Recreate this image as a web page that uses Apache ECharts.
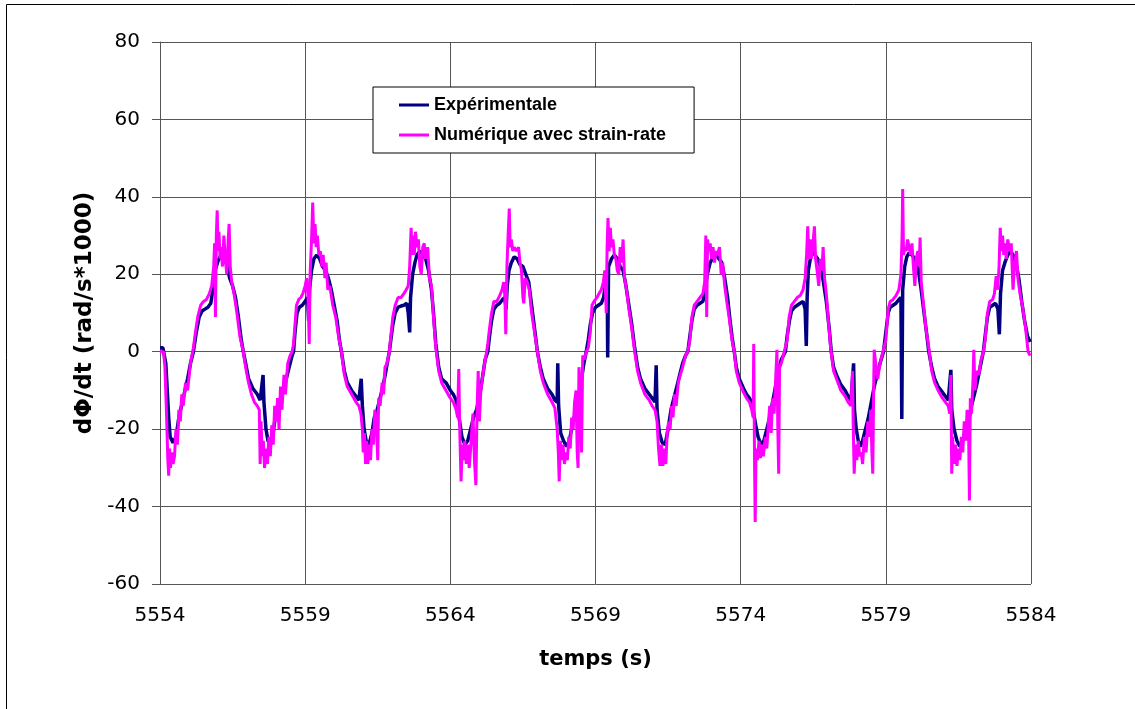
<!DOCTYPE html>
<html>
<head>
<meta charset="utf-8">
<title>dPhi/dt</title>
<script src="https://cdn.jsdelivr.net/npm/echarts@6/dist/echarts.min.js"></script>
<style>
  html, body { margin: 0; padding: 0; background: #fff; }
  #chart { width: 1135px; height: 709px; }
</style>
</head>
<body>
<div id="chart"></div>
<script>
// legend names
const seriesNames = ["Expérimentale", "Numérique avec strain-rate"]

// axis ranges
const timeRange = [5554, 5584, 5]
const rateRange = [-60, 80, 20]

// experimental signal [temps, dPhi/dt]
const experimental = [
  [5554,1],[5554.1,1],[5554.15,1],[5554.2,-3],[5554.25,-10],[5554.3,-17],[5554.35,-22],[5554.45,-23.5],[5554.55,-22],[5554.65,-17],[5554.8,-12],[5554.95,-7],[5555.05,-3],
  [5555.15,0],[5555.25,5],[5555.35,9],[5555.45,10.5],[5555.55,11],[5555.65,11.5],[5555.75,12.5],[5555.82,16],[5555.9,21],[5556.0,23.5],[5556.1,25],[5556.2,24],[5556.3,22.5],[5556.4,19],[5556.5,17],[5556.6,14],[5556.7,9],[5556.8,3],[5556.87,0],
  [5556.95,-3],[5557.05,-7],[5557.2,-9.5],[5557.35,-11],[5557.45,-12.5],[5557.5,-13],[5557.55,-6],[5557.58,-13],[5557.65,-20],[5557.72,-23],[5557.8,-24],[5557.88,-22],[5557.95,-18],[5558.05,-15],[5558.15,-13],[5558.25,-10],[5558.35,-7],[5558.45,-4],[5558.55,-1],
  [5558.6,0],[5558.65,5],[5558.72,10],[5558.8,11.5],[5558.9,12],[5559.0,13],[5559.08,14],[5559.12,8],[5559.15,16],[5559.22,21],[5559.3,24],[5559.4,25],[5559.5,24],[5559.6,22],[5559.7,21],[5559.8,19],[5559.9,16],[5560.0,12],[5560.1,8],[5560.18,3],[5560.25,0],
  [5560.35,-5],[5560.45,-8],[5560.6,-10],[5560.75,-11.5],[5560.85,-12.5],[5560.9,-13],[5560.93,-7],[5560.97,-14],[5561.03,-20],[5561.1,-23],[5561.2,-24],[5561.3,-21],[5561.38,-17],[5561.48,-15],[5561.58,-12],[5561.68,-9],[5561.78,-5],[5561.85,-2],
  [5561.9,0],[5561.95,3],[5562.02,7],[5562.1,10],[5562.2,11.5],[5562.3,11.8],[5562.4,12],[5562.5,12.5],[5562.55,10],[5562.6,5],[5562.63,14],[5562.7,20],[5562.78,23],[5562.85,25],[5562.95,26],[5563.05,25],[5563.15,24],[5563.25,21],[5563.35,16],[5563.42,10],[5563.5,2],
  [5563.6,-4],[5563.7,-7],[5563.85,-8],[5564.0,-10],[5564.1,-11],[5564.2,-12.5],[5564.3,-17],[5564.4,-22],[5564.5,-24],[5564.6,-23],[5564.7,-20],[5564.8,-17],[5564.9,-15],[5565.0,-12],[5565.1,-7],[5565.2,-2],
  [5565.29,0],[5565.35,4],[5565.42,8],[5565.5,11],[5565.6,12],[5565.7,12.5],[5565.8,13.5],[5565.88,14],[5565.92,11],[5565.96,17],[5566.02,21],[5566.1,23],[5566.2,24.5],[5566.3,24],[5566.4,22.5],[5566.5,22],[5566.6,20],[5566.7,18],[5566.8,12],[5566.9,6],[5567.0,0],
  [5567.1,-4],[5567.2,-7],[5567.35,-9.5],[5567.5,-11],[5567.6,-12.5],[5567.68,-13],[5567.7,-3],[5567.73,-14],[5567.8,-21],[5567.9,-23],[5568.0,-24.5],[5568.1,-23],[5568.2,-19],[5568.3,-16],[5568.4,-12],[5568.5,-8],[5568.6,-3],
  [5568.68,0],[5568.75,3],[5568.82,7],[5568.9,10],[5569.0,11.5],[5569.1,12],[5569.2,12.5],[5569.28,14],[5569.35,18],[5569.4,21],[5569.42,-1.5],[5569.45,22],[5569.55,24],[5569.65,25],[5569.75,24],[5569.85,22],[5569.95,21],[5570.05,17],[5570.15,12],[5570.25,7],[5570.35,1],
  [5570.45,-4],[5570.55,-7],[5570.7,-9.5],[5570.85,-11],[5570.95,-12],[5571.05,-13],[5571.09,-3.5],[5571.12,-15],[5571.2,-21],[5571.3,-23.5],[5571.4,-24],[5571.5,-20],[5571.6,-15],[5571.7,-12],[5571.8,-9],[5571.9,-6],[5572.0,-3],[5572.1,-1],
  [5572.18,0],[5572.25,4],[5572.32,8],[5572.4,11],[5572.5,12],[5572.6,12.5],[5572.7,13],[5572.78,16],[5572.85,20],[5572.95,23],[5573.05,24.5],[5573.15,25],[5573.25,24],[5573.35,23],[5573.45,19],[5573.55,14],[5573.62,9],[5573.7,4],[5573.78,0],
  [5573.85,-4],[5573.95,-7],[5574.1,-9.5],[5574.2,-11],[5574.3,-12],[5574.38,-13],[5574.45,-16],[5574.52,-19],[5574.6,-22],[5574.7,-24],[5574.8,-23],[5574.9,-20],[5575.0,-17],[5575.1,-13],[5575.2,-9],[5575.3,-5],[5575.4,-2],
  [5575.54,0],[5575.6,4],[5575.68,8],[5575.75,10.5],[5575.85,11.5],[5575.95,12],[5576.05,12.5],[5576.15,13],[5576.22,11],[5576.26,1.5],[5576.29,14],[5576.33,21],[5576.4,24],[5576.48,26],[5576.56,25],[5576.65,24],[5576.75,22],[5576.85,18],[5576.95,13],[5577.05,6],[5577.12,0],
  [5577.2,-4],[5577.3,-6],[5577.45,-8.5],[5577.6,-10],[5577.7,-11.5],[5577.8,-12.5],[5577.86,-13],[5577.89,-3],[5577.92,-15],[5577.98,-20],[5578.05,-23],[5578.12,-24.5],[5578.2,-23],[5578.3,-20],[5578.4,-17],[5578.5,-13],[5578.6,-9],[5578.7,-6],[5578.8,-3],
  [5578.92,0],[5579.0,5],[5579.08,10],[5579.15,11.5],[5579.25,12],[5579.35,12.5],[5579.45,13.5],[5579.52,14],[5579.55,-17.4],[5579.58,16],[5579.65,22],[5579.72,24.5],[5579.8,25.5],[5579.9,25],[5580.0,24],[5580.1,22],[5580.2,17],[5580.3,11],[5580.4,5],[5580.48,0],
  [5580.58,-4],[5580.68,-7],[5580.8,-9],[5580.95,-10.5],[5581.05,-11.5],[5581.15,-12.5],[5581.2,-13],[5581.24,-4.7],[5581.27,-15],[5581.35,-20],[5581.45,-23],[5581.55,-24.5],[5581.65,-23],[5581.75,-20],[5581.85,-18],[5581.95,-14],[5582.05,-11],[5582.13,-8.5],[5582.25,-4],[5582.33,-1],
  [5582.36,0],[5582.42,4],[5582.5,9],[5582.58,11.5],[5582.68,12],[5582.78,12.5],[5582.86,11],[5582.91,4.5],[5582.95,15],[5583.02,21],[5583.1,23],[5583.2,25],[5583.3,26],[5583.38,25],[5583.48,23],[5583.58,19],[5583.68,13],[5583.78,8],[5583.88,4],[5583.97,2.5]
]

// numerical signal [temps, dPhi/dt]
const numerical = [
  [5554,0],[5554.12,0],[5554.17,-4],[5554.22,-15],[5554.27,-28],[5554.3,-32],[5554.33,-25],[5554.36,-30],[5554.4,-26],[5554.45,-29],[5554.5,-27],[5554.55,-20],[5554.6,-24],[5554.65,-15],[5554.7,-18],[5554.75,-11],[5554.8,-14],[5554.88,-8],[5554.95,-10],[5555.05,-3],
  [5555.15,1],[5555.22,5],[5555.3,9],[5555.4,12],[5555.5,13],[5555.6,13.5],[5555.7,15],[5555.78,17],[5555.85,22],[5555.88,28],[5555.91,9],[5555.94,30],[5555.97,36.5],[5556.0,26],[5556.03,31],[5556.07,24],[5556.1,27],[5556.15,22],[5556.2,30],[5556.25,24],[5556.3,20],[5556.35,29],[5556.38,33],[5556.42,22],[5556.47,18],[5556.55,15],[5556.65,10],[5556.75,4],[5556.87,0],
  [5556.95,-4],[5557.05,-8],[5557.15,-11],[5557.25,-13],[5557.35,-14],[5557.42,-15],[5557.45,-29],[5557.48,-18],[5557.52,-27],[5557.56,-23],[5557.6,-30],[5557.65,-25],[5557.7,-29],[5557.75,-22],[5557.8,-27],[5557.85,-19],[5557.9,-24],[5557.95,-14],[5558.0,-18],[5558.05,-12],[5558.1,-20],[5558.15,-9],[5558.2,-15],[5558.27,-6],[5558.32,-11],[5558.4,-3],[5558.48,-1],[5558.55,0],
  [5558.6,2],[5558.65,7],[5558.7,12],[5558.78,13.5],[5558.85,14],[5558.92,15],[5559.0,17],[5559.05,19],[5559.1,14],[5559.14,2],[5559.17,20],[5559.22,29],[5559.26,38.5],[5559.3,28],[5559.34,33],[5559.38,27],[5559.42,30],[5559.47,25],[5559.52,26],[5559.58,22],[5559.62,25],[5559.68,19],[5559.72,23],[5559.78,16],[5559.85,17],[5559.95,12],[5560.05,9],[5560.15,4],[5560.25,0],
  [5560.35,-6],[5560.45,-9],[5560.6,-11],[5560.75,-13],[5560.85,-14],[5560.92,-16],[5560.97,-20],[5561.0,-26],[5561.04,-21],[5561.08,-29],[5561.12,-23],[5561.16,-29],[5561.2,-24],[5561.25,-28],[5561.3,-20],[5561.35,-24],[5561.4,-15],[5561.45,-18],[5561.5,-28],[5561.53,-12],[5561.58,-14],[5561.65,-8],[5561.7,-11],[5561.75,-4],[5561.82,-3],[5561.9,0],
  [5561.95,4],[5562.02,9],[5562.1,12],[5562.2,14],[5562.3,14],[5562.4,15],[5562.48,16],[5562.55,17],[5562.6,22],[5562.65,32],[5562.68,25],[5562.72,30],[5562.76,25],[5562.8,31],[5562.85,27],[5562.9,29],[5562.95,22],[5563.0,20],[5563.05,27],[5563.1,28],[5563.15,24],[5563.22,27],[5563.28,19],[5563.35,17],[5563.42,9],[5563.5,1],
  [5563.6,-5],[5563.7,-8],[5563.85,-10],[5564.0,-12],[5564.1,-13],[5564.2,-15],[5564.25,-17],[5564.29,-4.5],[5564.33,-22],[5564.37,-33.5],[5564.41,-24],[5564.45,-28],[5564.5,-23],[5564.55,-29],[5564.6,-24],[5564.65,-30],[5564.7,-25],[5564.75,-19],[5564.78,-16],[5564.83,-28],[5564.88,-34.5],[5564.92,-15],[5564.96,-5],[5565.0,-18],[5565.05,-10],[5565.1,-7],[5565.18,-3],[5565.25,0],
  [5565.29,2],[5565.35,6],[5565.42,10],[5565.5,13],[5565.6,13],[5565.7,14.5],[5565.78,16],[5565.84,18],[5565.88,14],[5565.91,4.5],[5565.95,22],[5565.99,30],[5566.03,37],[5566.06,27],[5566.1,29],[5566.15,26],[5566.2,27],[5566.28,26],[5566.35,27],[5566.4,23],[5566.45,21],[5566.5,14],[5566.53,12.5],[5566.58,19],[5566.65,18],[5566.72,16],[5566.8,10],[5566.9,5],[5567.0,0],
  [5567.1,-5],[5567.2,-8],[5567.35,-11],[5567.5,-13],[5567.6,-14.5],[5567.68,-20],[5567.72,-26],[5567.75,-33.5],[5567.79,-23],[5567.83,-28],[5567.88,-24],[5567.93,-29],[5567.98,-26],[5568.03,-28],[5568.08,-22],[5568.13,-25],[5568.18,-17],[5568.23,-20],[5568.28,-13],[5568.33,-10],[5568.37,-26],[5568.4,-30],[5568.43,-4],[5568.47,-8],[5568.52,-26],[5568.56,-1],[5568.62,-2],[5568.68,0],
  [5568.75,1],[5568.82,5],[5568.88,12],[5568.95,13],[5569.05,14],[5569.12,15],[5569.2,16],[5569.27,18],[5569.32,21],[5569.37,10],[5569.4,27],[5569.43,34.5],[5569.47,26],[5569.51,32],[5569.55,27],[5569.6,29],[5569.65,25],[5569.7,24],[5569.75,21],[5569.8,20],[5569.85,27],[5569.9,23],[5569.95,29],[5570.0,19],[5570.07,16],[5570.15,11],[5570.25,6],[5570.35,0],
  [5570.45,-5],[5570.55,-8],[5570.7,-11],[5570.85,-12.5],[5570.95,-14],[5571.05,-15],[5571.12,-18],[5571.17,-25],[5571.22,-29.5],[5571.27,-24],[5571.32,-29.5],[5571.37,-25],[5571.42,-29],[5571.47,-21],[5571.52,-18],[5571.57,-20],[5571.62,-14],[5571.67,-17],[5571.72,-11],[5571.78,-14],[5571.85,-8],[5571.92,-6],[5572.0,-4],[5572.1,-1],
  [5572.18,0],[5572.25,3],[5572.32,9],[5572.4,12],[5572.5,13],[5572.6,14],[5572.7,15],[5572.76,18],[5572.8,30],[5572.83,9],[5572.86,29],[5572.9,26],[5572.95,28],[5573.0,24],[5573.05,27],[5573.1,23],[5573.15,26],[5573.2,25],[5573.27,27],[5573.33,20],[5573.38,23],[5573.45,17],[5573.52,13],[5573.6,9],[5573.7,3],[5573.78,0],
  [5573.85,-5],[5573.95,-8],[5574.1,-10.5],[5574.2,-12],[5574.3,-13],[5574.38,-15],[5574.43,-17],[5574.45,2],[5574.48,-30],[5574.5,-44],[5574.53,-25],[5574.58,-28],[5574.63,-23],[5574.68,-27.5],[5574.73,-24],[5574.78,-27],[5574.85,-22],[5574.9,-25],[5574.95,-19],[5575.0,-14],[5575.05,-21],[5575.1,-12],[5575.15,-16],[5575.2,-8],[5575.25,0.5],[5575.28,-20],[5575.31,-31.5],[5575.34,-4],[5575.4,-3],[5575.5,0],
  [5575.6,3],[5575.67,9],[5575.75,12],[5575.85,13],[5575.95,14],[5576.05,14.5],[5576.15,16],[5576.22,19],[5576.27,25],[5576.31,32.4],[5576.35,24],[5576.39,29],[5576.43,24],[5576.48,27],[5576.54,32.4],[5576.58,24],[5576.63,21],[5576.69,17],[5576.74,24],[5576.8,21],[5576.84,27],[5576.89,19],[5576.95,15],[5577.02,8],[5577.1,1],
  [5577.2,-5],[5577.3,-7],[5577.45,-10],[5577.6,-11.5],[5577.7,-13],[5577.8,-14],[5577.85,-5],[5577.88,-20],[5577.91,-31.5],[5577.95,-24],[5578.0,-28],[5578.05,-23],[5578.1,-27],[5578.15,-26],[5578.2,-29],[5578.26,-22],[5578.32,-26],[5578.38,-18],[5578.44,-22],[5578.48,-15],[5578.52,-26],[5578.55,-31.5],[5578.58,-10],[5578.6,0.5],[5578.65,-3],[5578.72,-7],[5578.8,-3],[5578.9,0],
  [5579.0,3],[5579.08,11],[5579.15,13],[5579.25,13.5],[5579.35,14.5],[5579.45,16],[5579.52,20],[5579.56,30],[5579.58,42],[5579.61,25],[5579.65,27],[5579.7,26],[5579.75,29],[5579.8,27],[5579.85,25],[5579.9,28],[5579.95,22],[5580.0,17],[5580.05,24],[5580.1,26],[5580.15,22],[5580.18,29.5],[5580.22,18],[5580.3,12],[5580.38,6],[5580.48,1],
  [5580.58,-5],[5580.68,-8],[5580.8,-10],[5580.95,-12],[5581.05,-13],[5581.15,-14],[5581.2,-16],[5581.24,-6],[5581.27,-31.5],[5581.3,-22],[5581.35,-29],[5581.4,-24],[5581.45,-29.5],[5581.5,-25],[5581.55,-28],[5581.6,-22],[5581.65,-26],[5581.7,-18],[5581.75,-23],[5581.8,-15],[5581.85,-20],[5581.88,-38.4],[5581.91,-12],[5581.95,-16],[5582.0,-8],[5582.03,0.5],[5582.07,-10],[5582.12,-5],[5582.2,-6],[5582.28,-2],[5582.36,0],
  [5582.42,3],[5582.5,10],[5582.58,13],[5582.68,13.5],[5582.74,15],[5582.8,19.5],[5582.85,16],[5582.9,22],[5582.94,32],[5582.98,26],[5583.02,30],[5583.06,25],[5583.1,28],[5583.15,24],[5583.2,29],[5583.26,26],[5583.32,28],[5583.38,16],[5583.43,22],[5583.5,26],[5583.55,19],[5583.62,15],[5583.7,12],[5583.8,7],[5583.9,0],[5583.97,-1]
]

let myChart = echarts.init(document.getElementById("chart"))

myChart.setOption({
  animation: false,
  backgroundColor: "#fff",
  graphic: [
    {
      type: "rect",
      shape: { x: 6.5, y: 4.5, width: 1200, height: 800 },
      style: { fill: "none", stroke: "#000", lineWidth: 1 },
      silent: true,
    },
  ],
  grid: {
    left: 160,
    top: 42,
    right: 104,
    bottom: 125,
  },
  legend: {
    left: 373,
    top: 87,
    orient: "vertical",
    icon: "rect",
    itemWidth: 30,
    itemHeight: 3,
    itemGap: 12,
    padding: [9, 28, 9, 26],
    backgroundColor: "#fff",
    borderColor: "#000",
    borderWidth: 1,
    borderRadius: 0,
    textStyle: {
      fontFamily: "Liberation Sans",
      fontWeight: "bold",
      fontSize: 18,
      color: "#000",
    },
    data: seriesNames,
  },
  xAxis: {
    type: "value",
    min: timeRange[0],
    max: timeRange[1],
    interval: timeRange[2],
    name: "temps (s)",
    nameLocation: "middle",
    nameGap: 65,
    nameTextStyle: {
      fontFamily: "DejaVu Sans",
      fontWeight: "bold",
      fontSize: 21,
      color: "#000",
    },
    axisLine: { lineStyle: { color: "#555", width: 1 } },
    axisTick: { show: false },
    axisLabel: {
      margin: 22,
      fontFamily: "DejaVu Sans",
      fontSize: 20,
      color: "#000",
      formatter: (v) => String(v),
    },
    splitLine: { show: true, lineStyle: { color: "#555", width: 1 } },
  },
  yAxis: {
    type: "value",
    min: rateRange[0],
    max: rateRange[1],
    interval: rateRange[2],
    name: "dΦ/dt (rad/s*1000)",
    nameLocation: "middle",
    nameGap: 62,
    nameTextStyle: {
      fontFamily: "DejaVu Sans",
      fontWeight: "bold",
      fontSize: 23,
      color: "#000",
    },
    axisLine: { show: true, lineStyle: { color: "#555", width: 1 } },
    axisTick: { show: true, inside: false, length: 8, lineStyle: { color: "#555" } },
    axisLabel: {
      margin: 20,
      fontFamily: "DejaVu Sans",
      fontSize: 20,
      color: "#000",
    },
    splitLine: { show: true, lineStyle: { color: "#555", width: 1 } },
  },
  series: [
    {
      name: seriesNames[0],
      type: "line",
      data: experimental,
      showSymbol: false,
      color: "#000080",
      lineStyle: { width: 3.5, color: "#000080" },
    },
    {
      name: seriesNames[1],
      type: "line",
      data: numerical,
      showSymbol: false,
      color: "#ff00ff",
      lineStyle: { width: 3, color: "#ff00ff" },
    },
  ],
})
</script>
</body>
</html>
